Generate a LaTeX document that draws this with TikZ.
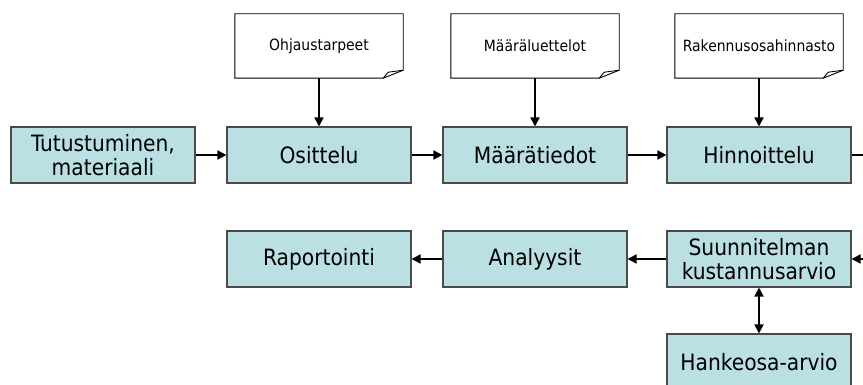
\documentclass[tikz,border=0pt]{standalone}
\usepackage{fontspec}
\setmainfont{DejaVu Sans Condensed}
\usetikzlibrary{arrows.meta}
\usepackage{xcolor}
\definecolor{boxblue}{HTML}{BAE0E3}
\definecolor{boxedge}{HTML}{4A4A4A}

\tikzset{
  phase/.style={draw=boxedge, fill=boxblue, line width=1.1pt, minimum width=184pt,
    minimum height=56pt, inner sep=0pt, align=center,
    font=\fontsize{22.5}{24}\selectfont},
  notebox/.style={minimum width=168pt, minimum height=64pt, inner sep=0pt,
    font=\fontsize{15.5}{17}\selectfont},
  flow/.style={line width=1.7pt, -{Triangle[length=9pt,width=9pt]}},
  twoway/.style={line width=1.7pt, {Triangle[length=9pt,width=9pt]}-{Triangle[length=9pt,width=9pt]}}
}

\begin{document}
\begin{tikzpicture}[x=1pt,y=-1pt]
        \useasboundingbox (0,0) rectangle (863,385);
        \clip (0,0) rectangle (863,385);

        % upper row
        \node[phase] (tut) at (103,155) {Tutustuminen,\\materiaali};
        \node[phase] (osi) at (319,155) {Osittelu};
        \node[phase] (maa) at (535,155) {Määrätiedot};
        \node[phase] (hin) at (759,155) {Hinnoittelu};

        % lower row
        \node[phase] (rap) at (319,259) {Raportointi};
        \node[phase] (ana) at (535,259) {Analyysit};
        \node[phase] (suu) at (759,259) {Suunnitelman\\kustannusarvio};
        \node[phase] (han) at (759,362) {Hankeosa-arvio};

        % notes
        \node[notebox] (ohj) at (319,46) {};
        \node[notebox] (lue) at (535,46) {};
        \node[notebox] (rak) at (759,46) {};
        \foreach \n in {ohj,lue,rak}{
          \draw[fill=white, line width=0.9pt] (\n.north west) -- (\n.north east)
            -- ([yshift=8pt]\n.south east) -- ([xshift=-20pt]\n.south east)
            -- (\n.south west) -- cycle;
          \draw[line width=0.9pt] ([xshift=-20pt]\n.south east)
            -- ([xshift=-15pt,yshift=6pt]\n.south east) -- ([yshift=8pt]\n.south east);
        }
        \node[notebox] at (ohj) {Ohjaustarpeet};
        \node[notebox] at (lue) {Määräluettelot};
        \node[notebox] at (rak) {Rakennusosahinnasto};

        \draw[flow] (ohj.south) -- (osi.north);
        \draw[flow] (lue.south) -- (maa.north);
        \draw[flow] (rak.south) -- (hin.north);

        \draw[flow] (tut) -- (osi);
        \draw[flow] (osi) -- (maa);
        \draw[flow] (maa) -- (hin);
        \draw[flow] (hin.east) -- ++(25,0) |- (suu.east);
        \draw[flow] (suu) -- (ana);
        \draw[flow] (ana) -- (rap);
        \draw[twoway] (suu) -- (han);
\end{tikzpicture}
\end{document}
